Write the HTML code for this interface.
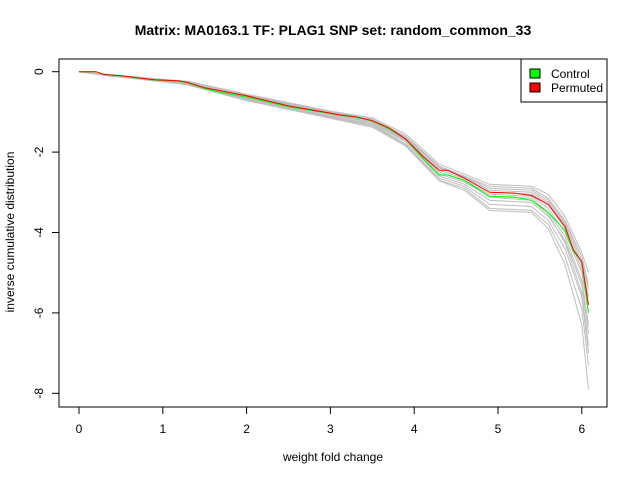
<!DOCTYPE html>
<html><head><meta charset="utf-8"><style>
body{margin:0;background:#fff}
svg{font-family:"Liberation Sans",Arial,sans-serif}
</style></head><body>
<svg id="chart" width="640" height="480">
<text x="333" y="35" text-anchor="middle" font-size="14" font-weight="bold">Matrix: MA0163.1 TF: PLAG1 SNP set: random_common_33</text>
<text x="333" y="461" text-anchor="middle" font-size="12">weight fold change</text>
<text transform="translate(14,232) rotate(-90)" text-anchor="middle" font-size="12">inverse cumulative distribution</text>
<g id="grey"></g>
<g id="main"></g>
<rect x="59" y="59" width="548" height="348" fill="none" stroke="#000"/>
<g id="axes"></g>
<g>
<rect x="521" y="59" width="86" height="43" fill="#fff" stroke="#000"/>
<rect x="530" y="69" width="10" height="9" fill="#00ff00" stroke="#000"/>
<text x="551" y="78" font-size="12">Control</text>
<rect x="530" y="83" width="10" height="9" fill="#ff0000" stroke="#000"/>
<text x="551" y="92" font-size="12">Permuted</text>
</g>
</svg>
<script>
const xVals=[0,0.2,0.3,0.5,0.7,0.9,1.2,1.3,1.5,1.7,2,2.5,3,3.1,3.3,3.5,3.7,3.9,4.1,4.3,4.4,4.6,4.9,5.2,5.4,5.6,5.8,5.9,6.0,6.08];
const permuted=[0,0,-0.07,-0.1,-0.15,-0.2,-0.23,-0.27,-0.4,-0.48,-0.6,-0.85,-1.03,-1.07,-1.12,-1.22,-1.4,-1.68,-2.1,-2.45,-2.45,-2.65,-3.0,-3.02,-3.08,-3.3,-3.85,-4.43,-4.73,-5.8];
const control=[0,0,-0.07,-0.1,-0.16,-0.21,-0.24,-0.28,-0.42,-0.52,-0.63,-0.87,-1.04,-1.08,-1.13,-1.23,-1.42,-1.68,-2.15,-2.57,-2.57,-2.7,-3.1,-3.12,-3.2,-3.5,-3.95,-4.47,-4.73,-6.0];
const greyX=[0,0.3,1,1.3,2,3,3.5,3.9,4.3,4.6,4.9,5.4,5.6,5.8,6.0,6.08];
const greySeries=[
[0,-0.06,-0.19,-0.24,-0.56,-0.98,-1.15,-1.55,-2.3,-2.55,-2.8,-2.85,-3.05,-3.6,-4.5,-5.0],
[0,-0.07,-0.2,-0.25,-0.58,-1.0,-1.18,-1.6,-2.35,-2.6,-2.85,-2.9,-3.15,-3.7,-4.6,-5.3],
[0,-0.07,-0.21,-0.26,-0.6,-1.02,-1.2,-1.65,-2.4,-2.62,-2.95,-3.0,-3.25,-3.8,-4.8,-5.6],
[0,-0.08,-0.22,-0.28,-0.62,-1.05,-1.25,-1.7,-2.5,-2.7,-3.05,-3.1,-3.4,-4.0,-5.0,-6.0],
[0,-0.08,-0.22,-0.29,-0.64,-1.07,-1.27,-1.72,-2.55,-2.75,-3.1,-3.15,-3.5,-4.1,-5.2,-6.3],
[0,-0.08,-0.23,-0.3,-0.66,-1.1,-1.3,-1.75,-2.6,-2.8,-3.2,-3.25,-3.6,-4.2,-5.3,-6.5],
[0,-0.09,-0.24,-0.31,-0.68,-1.12,-1.32,-1.8,-2.65,-2.85,-3.3,-3.35,-3.7,-4.4,-5.6,-7.0],
[0,-0.09,-0.25,-0.32,-0.7,-1.14,-1.35,-1.82,-2.7,-2.9,-3.4,-3.45,-3.8,-4.6,-5.9,-7.3],
[0,-0.07,-0.2,-0.26,-0.59,-1.01,-1.2,-1.62,-2.38,-2.6,-2.9,-2.95,-3.2,-3.75,-4.7,-5.4],
[0,-0.08,-0.21,-0.27,-0.61,-1.03,-1.22,-1.68,-2.45,-2.66,-3.0,-3.05,-3.3,-3.9,-4.9,-5.8],
[0,-0.08,-0.23,-0.29,-0.63,-1.06,-1.26,-1.7,-2.5,-2.72,-3.12,-3.2,-3.55,-4.25,-5.5,-6.8],
[0,-0.09,-0.25,-0.33,-0.72,-1.16,-1.38,-1.85,-2.72,-2.95,-3.45,-3.5,-3.9,-4.8,-6.3,-7.9]
];
const xTicks=[0,1,2,3,4,5,6];
const yTicks=[0,-2,-4,-6,-8];
const sx=v=>79+v*83.8, sy=v=>71.7-v*40.2;
const NS="http://www.w3.org/2000/svg";
function pts(xs,ys){return xs.map((x,i)=>sx(x).toFixed(1)+","+sy(ys[i]).toFixed(1)).join(" ");}
const g=document.getElementById('grey');
greySeries.forEach((s,i)=>{const p=document.createElementNS(NS,'polyline');
p.setAttribute('points',pts(greyX,s));p.setAttribute('fill','none');p.setAttribute('stroke','#bebebe');p.setAttribute('stroke-width','1');


g.appendChild(p);});
const m=document.getElementById('main');
[[control,'#00ff00','control-line'],[permuted,'#ff0000','permuted-line']].forEach(([s,c,n])=>{const p=document.createElementNS(NS,'polyline');
p.setAttribute('points',pts(xVals,s));p.setAttribute('fill','none');p.setAttribute('stroke',c);p.setAttribute('stroke-width','1');


m.appendChild(p);});
const a=document.getElementById('axes');
function add(tag,attrs,txt,name){const e=document.createElementNS(NS,tag);for(const k in attrs)e.setAttribute(k,attrs[k]);if(txt!==undefined)e.textContent=txt;


a.appendChild(e);}
add('line',{x1:sx(0),x2:sx(6),y1:407,y2:407,stroke:'#000'},undefined,'x-axis-line');
xTicks.forEach(t=>{add('line',{x1:sx(t),x2:sx(t),y1:407,y2:414,stroke:'#000'},undefined,'x-tick');
add('text',{x:sx(t),y:433,'text-anchor':'middle','font-size':'12'},String(t),'x-tick-label');});
add('line',{x1:59,x2:59,y1:sy(0),y2:sy(-8),stroke:'#000'},undefined,'y-axis-line');
yTicks.forEach(t=>{add('line',{x1:52,x2:59,y1:sy(t),y2:sy(t),stroke:'#000'},undefined,'y-tick');
add('text',{transform:`translate(43,${sy(t)}) rotate(-90)`,'text-anchor':'middle','font-size':'12'},String(t),'y-tick-label');});
</script>
</body></html>
